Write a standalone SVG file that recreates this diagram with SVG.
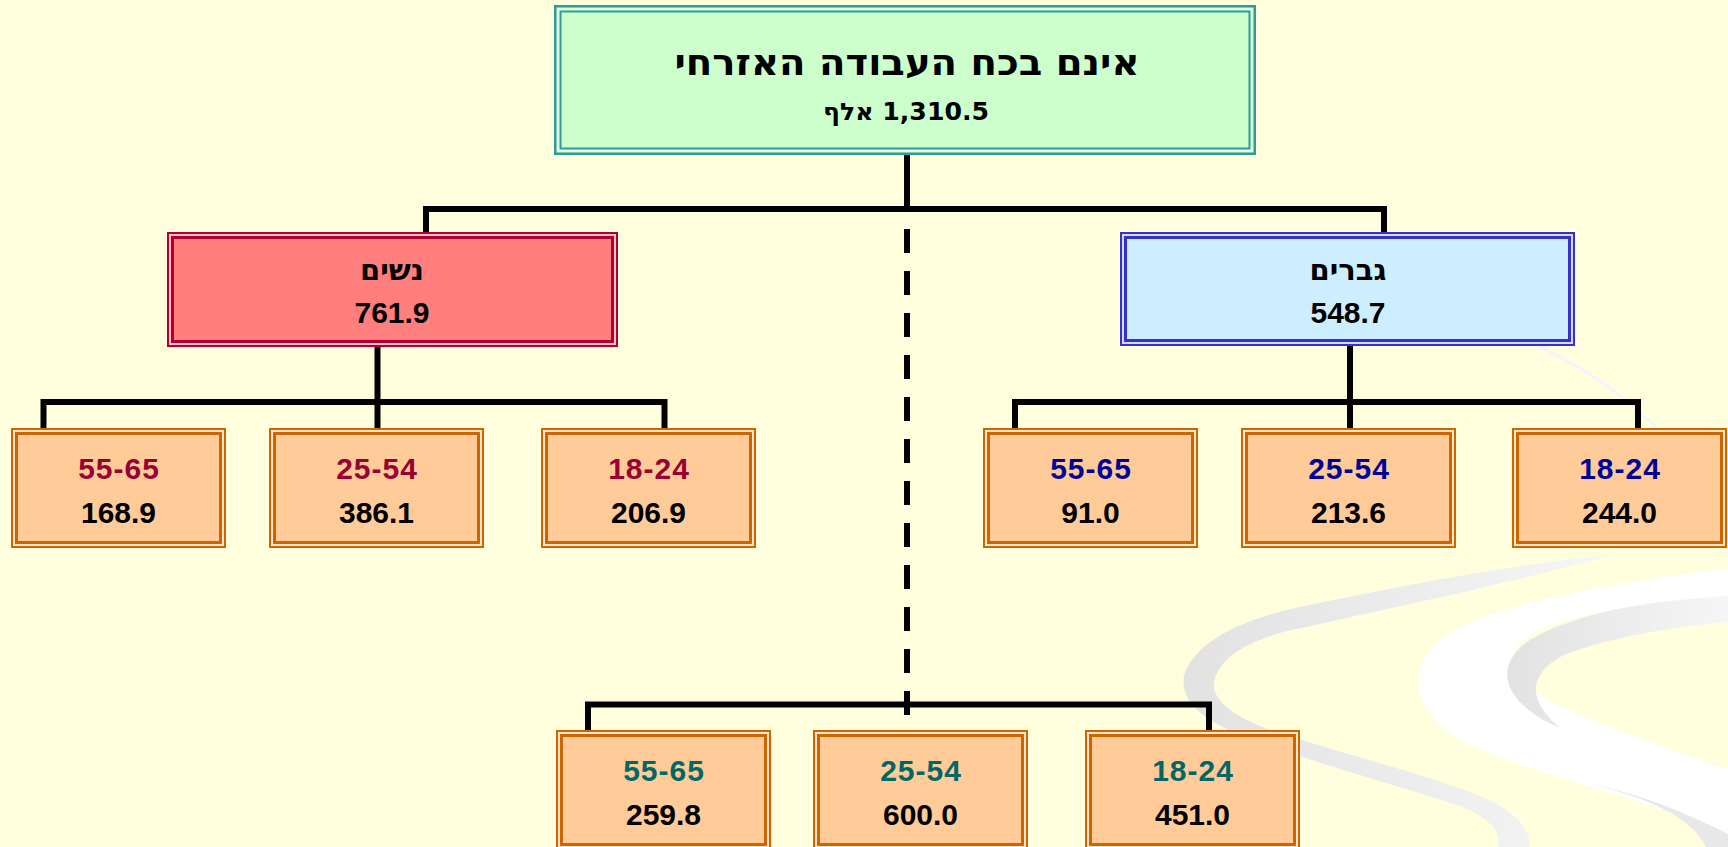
<svg xmlns="http://www.w3.org/2000/svg" xmlns:xlink="http://www.w3.org/1999/xlink" width="1728" height="847" viewBox="0 0 1728 847">
<style>
.heb{font-family:"DejaVu Sans","Liberation Sans",sans-serif;font-weight:bold;text-anchor:middle;fill:#000}
.num{font-family:"Liberation Sans","DejaVu Sans",sans-serif;font-weight:bold;font-size:30px;text-anchor:middle;fill:#000}
.w{fill:#990033;letter-spacing:1px}
.m{fill:#000099;letter-spacing:1px}
.a{fill:#006666;letter-spacing:1px}
.con{fill:none;stroke:#000;stroke-width:6;stroke-linejoin:miter;stroke-linecap:butt}
.dash{fill:none;stroke:#000;stroke-width:6;stroke-dasharray:24 18}
</style>
<defs>
<linearGradient id="gA" x1="0" y1="0" x2="1" y2="0">
<stop offset="0" stop-color="#e2e2e2"/><stop offset="1" stop-color="#f6f6f6"/>
</linearGradient>
<g id="b3">
<rect x="1" y="1" width="213" height="118" fill="#ffcc99" stroke="#cc6600" stroke-width="2"/>
<rect x="3" y="3" width="209" height="114" fill="none" stroke="#ffe6cc" stroke-width="2"/>
<rect x="5.5" y="5.5" width="204" height="109" fill="none" stroke="#cc6600" stroke-width="3"/>
</g>
</defs>
<rect width="1728" height="847" fill="#ffffdd"/>
<g id="decor">
<path d="M1611,555 C1520,563 1400,586 1300,607 C1228,622 1192,648 1184,676 C1180,700 1200,718 1240,735 C1310,762 1400,786 1460,806 C1490,818 1502,832 1498,847 L1530,847 C1530,828 1515,810 1480,796 C1420,772 1335,752 1265,728 C1228,714 1212,697 1214,683 C1218,658 1248,640 1292,630 C1380,610 1500,586 1611,555 Z" fill="url(#gA)"/>
<path d="M1728,568 C1610,584 1490,604 1445,636 C1405,665 1410,708 1460,740 C1530,776 1650,798 1728,834 L1728,770 C1650,742 1580,718 1545,698 C1500,672 1502,642 1555,624 C1615,606 1680,600 1728,596 Z" fill="#ffffff"/>
<path d="M1728,596 C1655,600 1575,612 1530,640 C1493,664 1500,702 1560,728 C1527,700 1528,675 1562,656 C1612,636 1680,626 1728,622 Z" fill="url(#gA)"/>
<path d="M1590,784 C1650,798 1692,818 1706,847 L1728,847 L1728,834 C1680,810 1640,794 1590,784 Z" fill="#e8e8e8"/>
<path d="M1540,347 C1590,370 1650,410 1690,470" fill="none" stroke="#f4f4ff" stroke-width="3"/>
</g>
<g id="connectors">
<path class="con" d="M907,150 V209"/>
<path class="con" d="M426,233 V209 H1384 V233"/>
<path class="con" d="M377.5,347 V432"/>
<path class="con" d="M43.5,432 V402 H664.5 V432"/>
<path class="con" d="M1350,346 V432"/>
<path class="con" d="M1015,432 V402 H1638 V432"/>
<path class="con" d="M588,734 V704.5 H1209 V734"/>
<path class="dash" d="M907,229 V735"/>
</g>
<g id="top">
<rect x="555.25" y="6.25" width="699.5" height="147.5" fill="#ccffcc" stroke="#339999" stroke-width="2.5"/>
<rect x="558.5" y="9.5" width="693" height="141" fill="none" stroke="#e6ffe6" stroke-width="2"/>
<rect x="560.5" y="11.5" width="689" height="137" fill="none" stroke="#339999" stroke-width="2"/>
<text class="heb" x="907" y="75" font-size="36" textLength="465" lengthAdjust="spacingAndGlyphs">אינם בכח העבודה האזרחי</text>
<text class="heb" x="906" y="120" font-size="24" direction="rtl" style="unicode-bidi:embed" textLength="166" lengthAdjust="spacingAndGlyphs">1,310.5 אלף</text>
</g>
<g id="women">
<rect x="168" y="233" width="449" height="113" fill="#ff7f7f" stroke="#b00033" stroke-width="2"/>
<rect x="170" y="235" width="445" height="109" fill="none" stroke="#ffc4c4" stroke-width="2"/>
<rect x="172.5" y="237.5" width="440" height="104" fill="none" stroke="#b00033" stroke-width="3"/>
<text class="heb" x="392" y="280" font-size="29">נשים</text>
<text class="num" x="392" y="323">761.9</text>
</g>
<g id="men">
<rect x="1121" y="233" width="453" height="112" fill="#cceeff" stroke="#3333cc" stroke-width="2"/>
<rect x="1123" y="235" width="449" height="108" fill="none" stroke="#d8d8ff" stroke-width="2"/>
<rect x="1125.5" y="237.5" width="444" height="103" fill="none" stroke="#3333cc" stroke-width="3"/>
<text class="heb" x="1348" y="280" font-size="29">גברים</text>
<text class="num" x="1348" y="323">548.7</text>
</g>
<g id="w5565"><use xlink:href="#b3" x="11" y="428"/><text class="num w" x="119" y="479">55-65</text><text class="num" x="118.5" y="523">168.9</text></g>
<g id="w2554"><use xlink:href="#b3" x="269" y="428"/><text class="num w" x="377" y="479">25-54</text><text class="num" x="376.5" y="523">386.1</text></g>
<g id="w1824"><use xlink:href="#b3" x="541" y="428"/><text class="num w" x="649" y="479">18-24</text><text class="num" x="648.5" y="523">206.9</text></g>
<g id="m5565"><use xlink:href="#b3" x="983" y="428"/><text class="num m" x="1091" y="479">55-65</text><text class="num" x="1090.5" y="523">91.0</text></g>
<g id="m2554"><use xlink:href="#b3" x="1241" y="428"/><text class="num m" x="1349" y="479">25-54</text><text class="num" x="1348.5" y="523">213.6</text></g>
<g id="m1824"><use xlink:href="#b3" x="1512" y="428"/><text class="num m" x="1620" y="479">18-24</text><text class="num" x="1619.5" y="523">244.0</text></g>
<g id="a5565"><use xlink:href="#b3" x="556" y="730"/><text class="num a" x="664" y="781">55-65</text><text class="num" x="663.5" y="825">259.8</text></g>
<g id="a2554"><use xlink:href="#b3" x="813" y="730"/><text class="num a" x="921" y="781">25-54</text><text class="num" x="920.5" y="825">600.0</text></g>
<g id="a1824"><use xlink:href="#b3" x="1085" y="730"/><text class="num a" x="1193" y="781">18-24</text><text class="num" x="1192.5" y="825">451.0</text></g>
</svg>
